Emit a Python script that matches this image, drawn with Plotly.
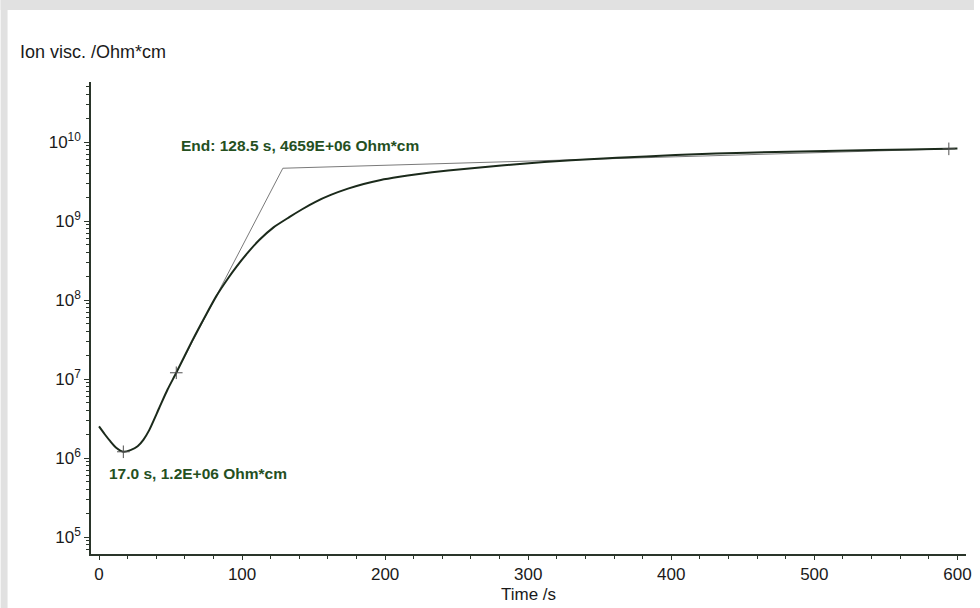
import plotly.graph_objects as go

# ---- data ----
time_s = [0, 4, 8, 12, 17, 22, 27, 31, 35, 42, 48, 54, 65, 75, 82, 90, 96, 104, 112,
          122, 133, 142, 151, 162, 174, 185, 197, 210, 221, 244, 270, 292, 330, 362,
          403, 431, 473, 542, 593, 600]
ion_visc = [2.51e6, 2.00e6, 1.62e6, 1.35e6, 1.20e6, 1.26e6, 1.41e6, 1.70e6, 2.24e6,
            4.27e6, 7.41e6, 1.20e7, 3.02e7, 6.61e7, 1.12e8, 1.86e8, 2.63e8, 3.98e8,
            5.75e8, 8.32e8, 1.12e9, 1.41e9, 1.74e9, 2.14e9, 2.57e9, 2.95e9, 3.31e9,
            3.63e9, 3.89e9, 4.37e9, 4.84e9, 5.25e9, 5.89e9, 6.31e9, 6.84e9, 7.16e9,
            7.50e9, 7.94e9, 8.22e9, 8.28e9]

tangent_x = [54, 128.5, 594]
tangent_y = [1.2e7, 4.659e9, 8.2e9]

marker_x = [17.0, 54, 594]
marker_y = [1.2e6, 1.2e7, 8.2e9]

y_tickvals = [1e5, 1e6, 1e7, 1e8, 1e9, 1e10]
y_ticktext = ["10<sup>5</sup>", "10<sup>6</sup>", "10<sup>7</sup>",
              "10<sup>8</sup>", "10<sup>9</sup>", "10<sup>10</sup>"]
x_tickvals = [0, 100, 200, 300, 400, 500, 600]

label_min = "17.0 s, 1.2E+06 Ohm*cm"
label_end = "End: 128.5 s, 4659E+06 Ohm*cm"
y_title = "Ion visc. /Ohm*cm"
x_title = "Time /s"

# ---- layout geometry (pixels) ----
W, H = 980, 608
L, R, T, B = 91, 8, 82, 54
PW, PH = W - L - R, H - T - B


def px(x):
    return (x - L) / PW


def py(y):
    return (H - B - y) / PH


FONT = "Liberation Sans, Arial, sans-serif"
AX = "#2a352a"
GREEN = "#25501f"
TXT = "#1a1a1a"

fig = go.Figure()

fig.add_trace(go.Scatter(
    x=tangent_x, y=tangent_y, mode="lines",
    line=dict(color="#7a7a7a", width=1), hoverinfo="skip", showlegend=False))

fig.add_trace(go.Scatter(
    x=time_s, y=ion_visc, mode="lines", line_shape="spline",
    line=dict(color="#1b2a1b", width=2, smoothing=0.6), showlegend=False))

fig.add_trace(go.Scatter(
    x=marker_x, y=marker_y, mode="markers",
    marker=dict(symbol="cross-thin", size=9, line=dict(color="#505050", width=1)),
    showlegend=False))

# grey border top/left
fig.add_shape(type="rect", xref="paper", yref="paper",
              x0=px(0), x1=px(W), y0=py(0), y1=py(10),
              fillcolor="#e1e1e1", line_width=0, layer="below")
fig.add_shape(type="rect", xref="paper", yref="paper",
              x0=px(0), x1=px(7), y0=py(0), y1=py(H),
              fillcolor="#e1e1e1", line_width=0, layer="below")

fig.add_annotation(text=label_end, x=px(180), y=py(145), xref="paper", yref="paper",
                   xanchor="left", yanchor="middle", showarrow=False,
                   font=dict(family=FONT, size=15.5, color=GREEN, weight="bold"))
fig.add_annotation(text=label_min, x=px(107), y=py(473), xref="paper", yref="paper",
                   xanchor="left", yanchor="middle", showarrow=False,
                   font=dict(family=FONT, size=15.5, color=GREEN, weight="bold"))
fig.add_annotation(text=y_title, x=px(17), y=py(52), xref="paper", yref="paper",
                   xanchor="left", yanchor="middle", showarrow=False,
                   font=dict(family=FONT, size=18, color=TXT))
fig.add_annotation(text=x_title, x=0.5, y=py(594), xref="paper", yref="paper",
                   xanchor="center", yanchor="middle", showarrow=False,
                   font=dict(family=FONT, size=17, color=TXT))

fig.update_layout(
    width=W, height=H,
    margin=dict(l=L, r=R, t=T, b=B, pad=0),
    paper_bgcolor="white", plot_bgcolor="white",
    font=dict(family=FONT, size=17, color=TXT),
    xaxis=dict(range=[-5.6, 606], tickvals=x_tickvals, showgrid=False, zeroline=False,
               showline=True, linecolor=AX, linewidth=1.5,
               ticks="outside", ticklen=4, tickwidth=1.2, tickcolor=AX,
               minor=dict(dtick=20, ticks="outside", ticklen=3, tickcolor=AX, showgrid=False),
               tickfont=dict(family=FONT, size=17, color=TXT)),
    yaxis=dict(type="log", range=[4.785, 10.76], tickvals=y_tickvals, ticktext=y_ticktext,
               showgrid=False, zeroline=False,
               showline=True, linecolor=AX, linewidth=1.5,
               ticks="outside", ticklen=5, tickwidth=1.2, tickcolor=AX,
               minor=dict(dtick="D1", ticks="outside", ticklen=3, tickcolor=AX, showgrid=False),
               tickfont=dict(family=FONT, size=17, color=TXT)),
)

fig.write_html("out.html", config={"displayModeBar": False},
               post_script="document.body.style.margin='0';")
